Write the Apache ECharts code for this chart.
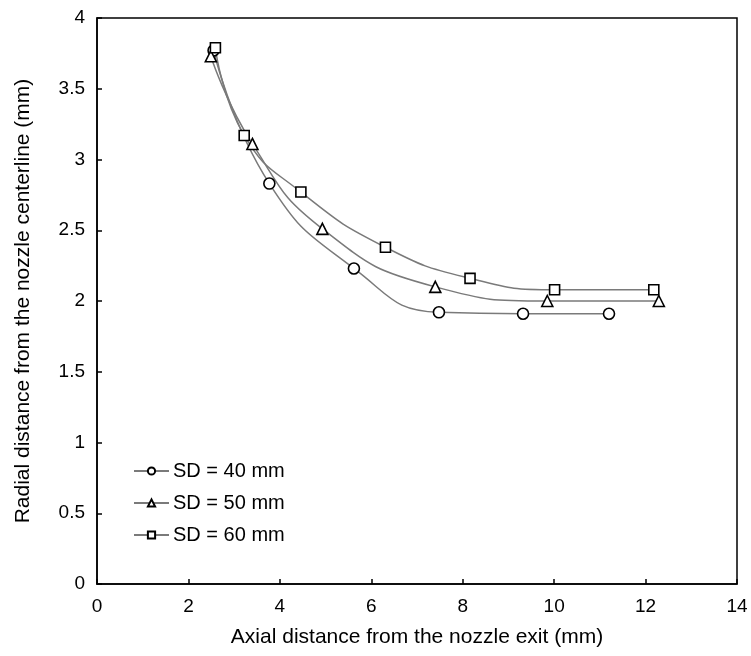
<!DOCTYPE html>
<html>
<head>
<meta charset="utf-8">
<script src="https://cdn.jsdelivr.net/npm/echarts@6/dist/echarts.min.js"></script>
<style>
  html, body { margin: 0; padding: 0; background: #fff; }
  #chart { width: 751px; height: 656px; }
</style>
</head>
<body>
<div id="chart"></div>
<script>
// 读图得到的数据
const sd40X = [2.55, 3.77, 5.62, 7.48, 9.32, 11.20];
const sd40Y = [3.77, 2.83, 2.23, 1.92, 1.91, 1.91];
const sd50X = [2.49, 3.40, 4.93, 7.40, 9.85, 12.29];
const sd50Y = [3.73, 3.11, 2.51, 2.10, 2.00, 2.00];
const sd60X = [2.59, 3.22, 4.46, 6.31, 8.16, 10.01, 12.18];
const sd60Y = [3.79, 3.17, 2.77, 2.38, 2.16, 2.08, 2.08];
const seriesNames = ['SD = 40 mm', 'SD = 50 mm', 'SD = 60 mm'];
const xTicks = [0, 2, 4, 6, 8, 10, 12, 14];
const yTicks = [0, 0.5, 1, 1.5, 2, 2.5, 3, 3.5, 4];

const font = 'Liberation Sans, Arial, sans-serif';

function pairs(xs, ys) {
    return xs.map((x, i) => [x, ys[i]]);
}

function makeSeries(name, data, symbol) {
    return {
        name: name,
        type: 'line',
        data: data,
        smooth: 0.5,
        symbol: symbol,
        symbolSize: symbol === 'rect' ? 10 : 11,
        showAllSymbol: true,
        lineStyle: { color: '#7a7a7a', width: 1.5 },
        itemStyle: { color: '#fff', borderColor: '#000', borderWidth: 1.6 },
        emphasis: { disabled: true },
        z: 3
    };
}

const chart = echarts.init(document.getElementById('chart'));

chart.setOption({
    animation: false,
    backgroundColor: '#fff',
    grid: {
        left: 97, right: 14, top: 18, bottom: 72,
        show: true, borderColor: '#000', borderWidth: 1.5
    },
    legend: {
        orient: 'vertical',
        left: 128,
        top: 456,
        itemWidth: 35,
        itemHeight: 9,
        itemGap: 12,
        data: seriesNames,
        textStyle: { color: '#000', fontSize: 20, fontFamily: font, padding: [0, 0, 0, -1] }
    },
    xAxis: {
        type: 'value',
        min: xTicks[0],
        max: xTicks[xTicks.length - 1],
        interval: 2,
        name: 'Axial distance from the nozzle exit (mm)',
        nameLocation: 'middle',
        nameGap: 43,
        nameTextStyle: { color: '#000', fontSize: 21, fontFamily: font },
        axisLine: { lineStyle: { color: '#000', width: 1.5 } },
        axisTick: { inside: true, length: 5, lineStyle: { color: '#000', width: 1.5 } },
        axisLabel: { color: '#000', fontSize: 19, fontFamily: font, margin: 13 },
        splitLine: { show: false }
    },
    yAxis: {
        type: 'value',
        min: yTicks[0],
        max: yTicks[yTicks.length - 1],
        interval: 0.5,
        name: 'Radial distance from the nozzle centerline (mm)',
        nameLocation: 'middle',
        nameGap: 63,
        nameTextStyle: { color: '#000', fontSize: 21, fontFamily: font },
        axisLine: { lineStyle: { color: '#000', width: 1.5 } },
        axisTick: { inside: true, length: 5, lineStyle: { color: '#000', width: 1.5 } },
        axisLabel: { color: '#000', fontSize: 19, fontFamily: font, margin: 12 },
        splitLine: { show: false }
    },
    series: [
        makeSeries(seriesNames[0], pairs(sd40X, sd40Y), 'circle'),
        makeSeries(seriesNames[1], pairs(sd50X, sd50Y), 'triangle'),
        makeSeries(seriesNames[2], pairs(sd60X, sd60Y), 'rect')
    ]
});
</script>
</body>
</html>
